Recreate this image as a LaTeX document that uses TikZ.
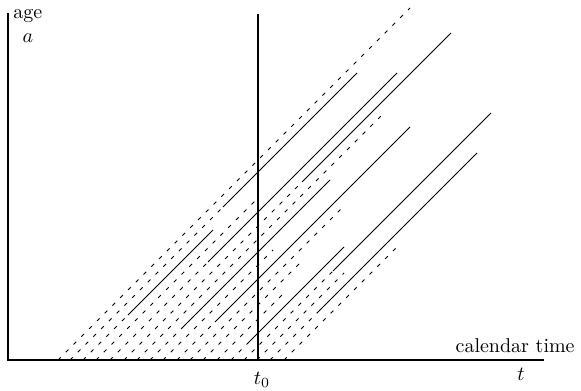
\documentclass[tikz,border=0pt]{standalone}
\usetikzlibrary{positioning}
\begin{document}
\begin{tikzpicture}[x=0.5pt,y=-0.5pt,
  axis/.style={line width=0.55pt},
  life/.style={line width=0.45pt},
  healthy/.style={life,dash pattern=on 1.9pt off 3.6pt}]
  \useasboundingbox (0,0) rectangle (581,390);
  % axes and the line t = t0
  \coordinate (O) at (8,360);
  \coordinate (atop) at (8,13);
  \coordinate (tend) at (544,360);
  \coordinate (t0top) at (258,14);
  \coordinate (t0bot) at (258,360);
  \draw[axis] (atop) -- (O) -- (tend);
  \draw[axis] (t0top) -- (t0bot);
  \node[anchor=base west,inner sep=0pt] (age) at (13,19) {age};
  \node[anchor=base,inner sep=0pt] (a) at (28,43) {$a$};
  \node[anchor=base east,inner sep=0pt] (cal) at (575,352) {calendar time};
  \node[anchor=base,inner sep=0pt] (t0) at (262,384) {$t_0$};
  \node[anchor=base,inner sep=0pt] (t) at (521,380) {$t$};
  % life lines: x+y = c, dashed from birth to onset, solid to death
  \foreach \c/\o/\d [count=\k] in {418/8/8, 430/207/73, 443/315/230,
      456/200/200, 470/262/73, 484/182/33, 497/114/114, 510/328/180,
      523/250/250, 537/322/127, 550/208/208, 563/260/260, 577/290/290,
      591/343/247, 604/271/113, 617/273/273, 630/313/153, 644/248/248}{
    \coordinate (b\k) at (\c-360,360);
    \coordinate (o\k) at (\c-\o,\o);
    \coordinate (d\k) at (\c-\d,\d);
    \draw[healthy] (b\k) -- (o\k);
    \draw[life] (o\k) -- (d\k);
  }
\end{tikzpicture}
\end{document}
